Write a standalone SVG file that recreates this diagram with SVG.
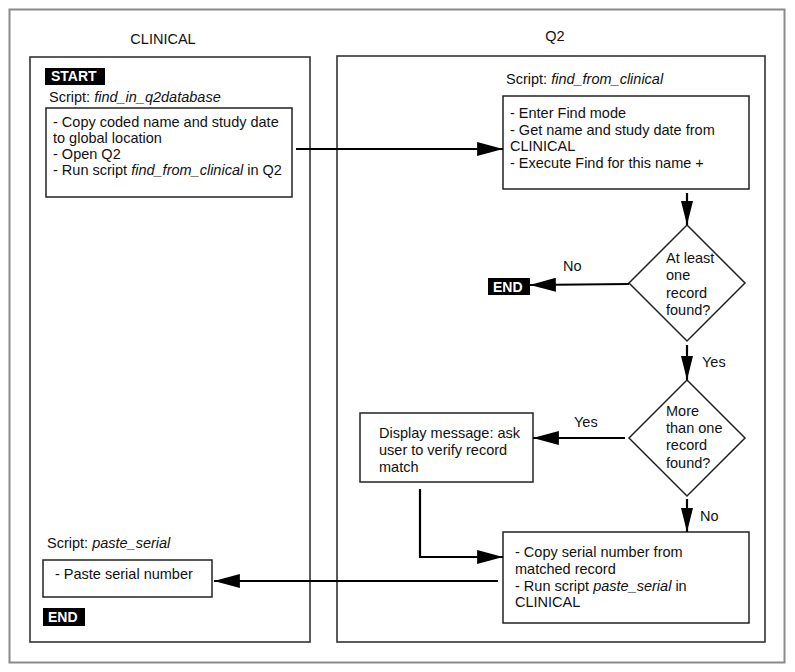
<svg xmlns="http://www.w3.org/2000/svg" width="795" height="672" viewBox="0 0 795 672">
<style>
text { font-family: "Liberation Sans", Arial, sans-serif; font-size: 14.5px; fill: #111; }
.i { font-style: italic; }
.tag { fill: #000; }
.tagt { fill: #fff; font-weight: bold; font-size: 14px; }
.box { fill: #fff; stroke: #222; stroke-width: 1.5; }
.panel { fill: none; stroke: #333; stroke-width: 1.6; }
.con { fill: none; stroke: #000; stroke-width: 2.2; }
</style>
<defs>
<marker id="ah" markerUnits="userSpaceOnUse" markerWidth="26" markerHeight="14" viewBox="0 0 24 13" refX="24" refY="6.5" orient="auto">
<path d="M0,0 L24,6.5 L0,13 Z" fill="#000"/>
</marker>
<marker id="av" markerUnits="userSpaceOnUse" markerWidth="24" markerHeight="12" viewBox="0 0 22 11" refX="22" refY="5.5" orient="auto">
<path d="M0,0 L22,5.5 L0,11 Z" fill="#000"/>
</marker>
</defs>
<rect width="795" height="672" fill="#fff"/>
<rect x="9.5" y="9.5" width="775" height="653" fill="none" stroke="#8a8a8a" stroke-width="2"/>

<g id="clinical-panel">
<rect class="panel" x="30" y="57" width="280" height="585"/>
<text x="163" y="44" text-anchor="middle">CLINICAL</text>
</g>
<g id="q2-panel">
<rect class="panel" x="337" y="56" width="428" height="586"/>
<text x="555" y="41" text-anchor="middle">Q2</text>
</g>

<g id="start">
<rect class="tag" x="45" y="68" width="60" height="17"/>
<text class="tagt" x="51" y="81">START</text>
</g>

<g id="script-find-in-q2database">
<text x="49" y="102">Script: <tspan class="i">find_in_q2database</tspan></text>
<rect class="box" x="46" y="108" width="246" height="89"/>
<text x="53" y="127">- Copy coded name and study date</text>
<text x="53" y="143">to global location</text>
<text x="53" y="159">- Open Q2</text>
<text x="53" y="175">- Run script <tspan class="i">find_from_clinical</tspan> in Q2</text>
</g>

<g id="script-find-from-clinical">
<text x="506" y="84">Script: <tspan class="i">find_from_clinical</tspan></text>
<rect class="box" x="503" y="96" width="246" height="93"/>
<text x="510" y="118">- Enter Find mode</text>
<text x="510" y="134.5">- Get name and study date from</text>
<text x="510" y="151">CLINICAL</text>
<text x="510" y="167.5">- Execute Find for this name +</text>
</g>

<g id="decision-at-least-one">
<path class="box" d="M687,225 L745,283 L687,341 L629,283 Z"/>
<text x="666" y="263">At least</text>
<text x="666" y="280">one</text>
<text x="666" y="298">record</text>
<text x="666" y="315">found?</text>
</g>

<g id="end-q2">
<rect class="tag" x="488" y="278" width="42" height="17"/>
<text class="tagt" x="493" y="292">END</text>
</g>

<g id="decision-more-than-one">
<path class="box" d="M687,380 L745,438 L687,496 L629,438 Z"/>
<text x="666" y="416">More</text>
<text x="666" y="433">than one</text>
<text x="666" y="450">record</text>
<text x="666" y="468">found?</text>
</g>

<g id="display-message">
<rect class="box" x="360" y="413" width="173" height="69"/>
<text x="379" y="438">Display message: ask</text>
<text x="379" y="455">user to verify record</text>
<text x="379" y="472">match</text>
</g>

<g id="copy-serial">
<rect class="box" x="503" y="532" width="246" height="91"/>
<text x="515" y="557">- Copy serial number from</text>
<text x="515" y="574">matched record</text>
<text x="515" y="590.5">- Run script <tspan class="i">paste_serial</tspan> in</text>
<text x="515" y="607">CLINICAL</text>
</g>

<g id="script-paste-serial">
<text x="47" y="548">Script: <tspan class="i">paste_serial</tspan></text>
<rect class="box" x="43" y="560" width="169" height="37"/>
<text x="55" y="579">- Paste serial number</text>
</g>

<g id="end-clinical">
<rect class="tag" x="43" y="608" width="42" height="18"/>
<text class="tagt" x="48" y="622">END</text>
</g>

<g id="connectors">
<line class="con" x1="296" y1="149" x2="503" y2="149" marker-end="url(#ah)"/>
<line class="con" x1="687" y1="193" x2="687" y2="225" marker-end="url(#av)"/>
<line class="con" x1="629" y1="284" x2="530" y2="285" marker-end="url(#ah)"/>
<text x="563" y="271">No</text>
<line class="con" x1="687" y1="345" x2="687" y2="380" marker-end="url(#av)"/>
<text x="702" y="367">Yes</text>
<line class="con" x1="625" y1="438" x2="533" y2="438" marker-end="url(#ah)"/>
<text x="574" y="427">Yes</text>
<line class="con" x1="687" y1="499" x2="687" y2="532" marker-end="url(#av)"/>
<text x="700" y="521">No</text>
<polyline class="con" points="420,489 420,557 503,557" marker-end="url(#ah)"/>
<line class="con" x1="498" y1="581" x2="214" y2="581" marker-end="url(#ah)"/>
</g>
</svg>
